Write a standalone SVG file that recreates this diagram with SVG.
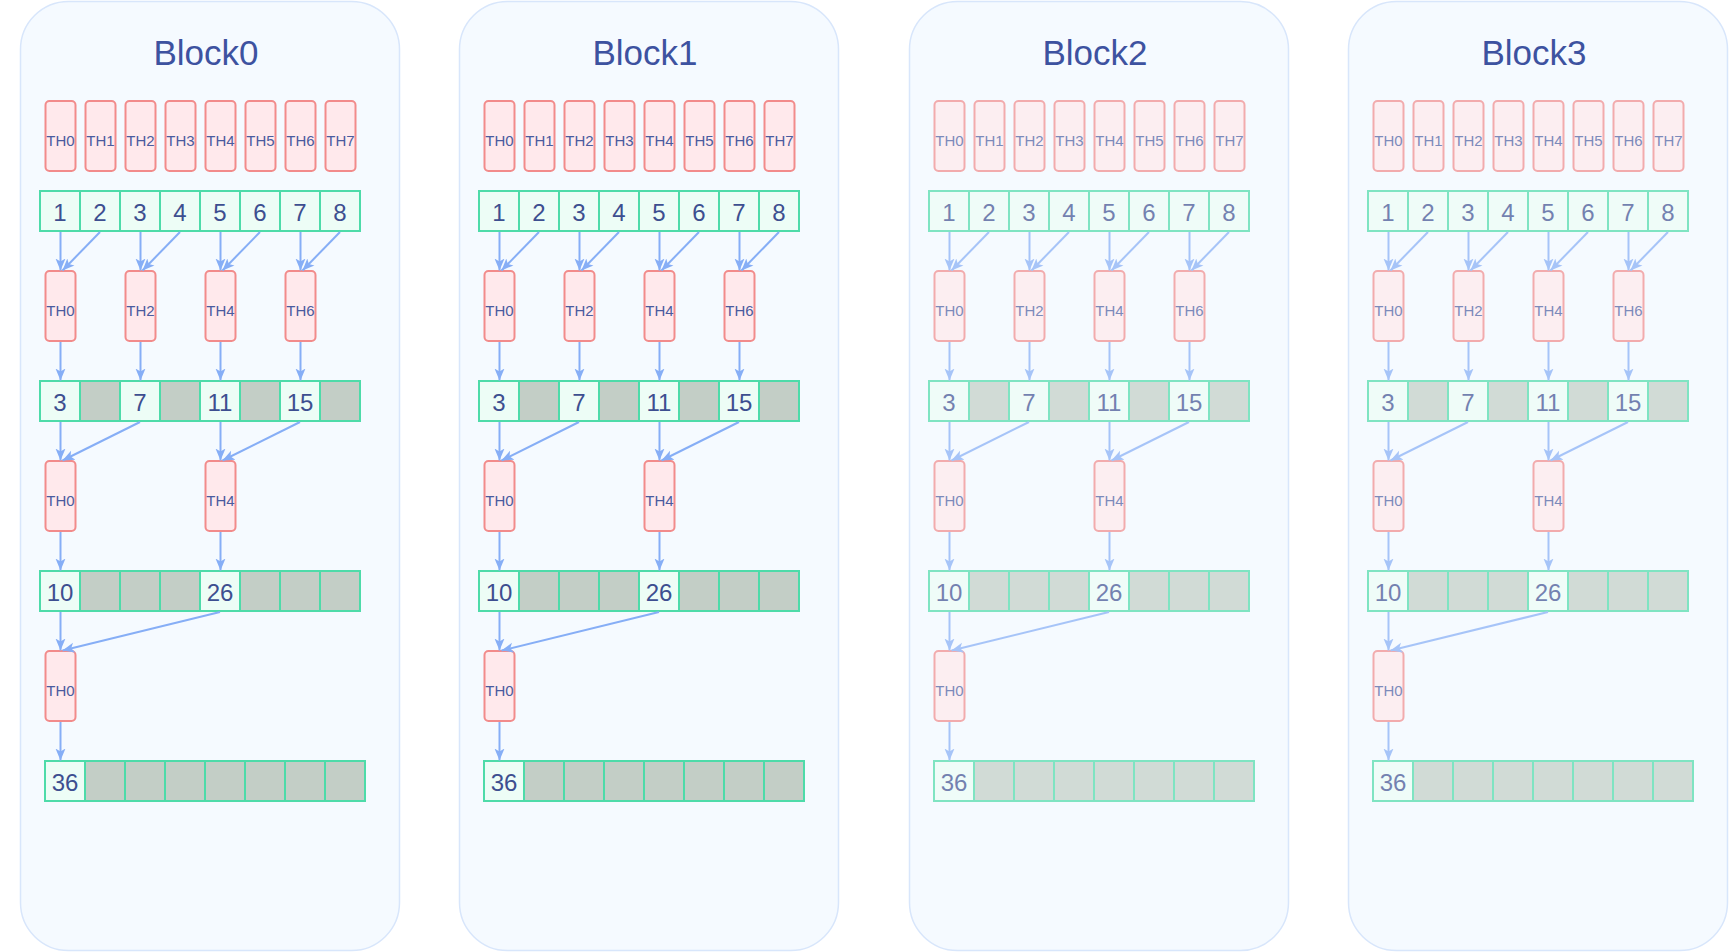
<svg xmlns="http://www.w3.org/2000/svg" width="1729" height="952" viewBox="0 0 1729 952">
<style>
.box{fill:#f5faff;stroke:#d8e6fb;stroke-width:1.5}
.title{font-family:"Liberation Sans",Arial,sans-serif;font-size:35px;fill:#3d52a0;text-anchor:middle}
.th{fill:#ffe9ec;stroke:#f28b8b;stroke-width:2}
.tl{font-family:"Liberation Sans",Arial,sans-serif;font-size:15px;fill:#4a5b9e;text-anchor:middle}
.c{fill:#edfdf6;stroke:#4edba9;stroke-width:2}
.g{fill:#c3cec6;stroke:#4edba9;stroke-width:2}
.n{font-family:"Liberation Sans",Arial,sans-serif;font-size:24px;fill:#3d4f90;text-anchor:middle}
.cn line{stroke:#86aef6;stroke-width:2;marker-end:url(#ah)}
.faded{opacity:0.7}
</style>
<defs>
<marker id="ah" viewBox="0 0 12 12" refX="12" refY="6" markerWidth="12" markerHeight="12" markerUnits="userSpaceOnUse" orient="auto">
<path d="M0,1 L12,6 L0,11 L3,6 z" fill="#86aef6"/>
</marker>
</defs>
<rect width="1729" height="952" fill="#ffffff"/>

<!-- ================= Block0 ================= -->
<g id="block0" transform="translate(0,0)">
<rect class="box" x="20.5" y="1.5" width="379" height="949" rx="48"/>
<text class="title" x="206" y="65">Block0</text>
<g id="b0-content">
<g id="b0-t1-0"><rect class="th" x="45.5" y="101" width="30" height="70" rx="4"/><text class="tl" x="60.5" y="145.5">TH0</text></g>
<g id="b0-t1-1"><rect class="th" x="85.5" y="101" width="30" height="70" rx="4"/><text class="tl" x="100.5" y="145.5">TH1</text></g>
<g id="b0-t1-2"><rect class="th" x="125.5" y="101" width="30" height="70" rx="4"/><text class="tl" x="140.5" y="145.5">TH2</text></g>
<g id="b0-t1-3"><rect class="th" x="165.5" y="101" width="30" height="70" rx="4"/><text class="tl" x="180.5" y="145.5">TH3</text></g>
<g id="b0-t1-4"><rect class="th" x="205.5" y="101" width="30" height="70" rx="4"/><text class="tl" x="220.5" y="145.5">TH4</text></g>
<g id="b0-t1-5"><rect class="th" x="245.5" y="101" width="30" height="70" rx="4"/><text class="tl" x="260.5" y="145.5">TH5</text></g>
<g id="b0-t1-6"><rect class="th" x="285.5" y="101" width="30" height="70" rx="4"/><text class="tl" x="300.5" y="145.5">TH6</text></g>
<g id="b0-t1-7"><rect class="th" x="325.5" y="101" width="30" height="70" rx="4"/><text class="tl" x="340.5" y="145.5">TH7</text></g>
<g id="b0-a1">
<rect class="c" x="40" y="191" width="40" height="40"/><rect class="c" x="80" y="191" width="40" height="40"/><rect class="c" x="120" y="191" width="40" height="40"/><rect class="c" x="160" y="191" width="40" height="40"/><rect class="c" x="200" y="191" width="40" height="40"/><rect class="c" x="240" y="191" width="40" height="40"/><rect class="c" x="280" y="191" width="40" height="40"/><rect class="c" x="320" y="191" width="40" height="40"/>
<text class="n" x="60" y="220.5">1</text><text class="n" x="100" y="220.5">2</text><text class="n" x="140" y="220.5">3</text><text class="n" x="180" y="220.5">4</text><text class="n" x="220" y="220.5">5</text><text class="n" x="260" y="220.5">6</text><text class="n" x="300" y="220.5">7</text><text class="n" x="340" y="220.5">8</text>
</g>
<g id="b0-t2-0"><rect class="th" x="45.5" y="271" width="30" height="70" rx="4"/><text class="tl" x="60.5" y="315.5">TH0</text></g>
<g id="b0-t2-2"><rect class="th" x="125.5" y="271" width="30" height="70" rx="4"/><text class="tl" x="140.5" y="315.5">TH2</text></g>
<g id="b0-t2-4"><rect class="th" x="205.5" y="271" width="30" height="70" rx="4"/><text class="tl" x="220.5" y="315.5">TH4</text></g>
<g id="b0-t2-6"><rect class="th" x="285.5" y="271" width="30" height="70" rx="4"/><text class="tl" x="300.5" y="315.5">TH6</text></g>
<g id="b0-a2">
<rect class="c" x="40" y="381" width="40" height="40"/><rect class="g" x="80" y="381" width="40" height="40"/><rect class="c" x="120" y="381" width="40" height="40"/><rect class="g" x="160" y="381" width="40" height="40"/><rect class="c" x="200" y="381" width="40" height="40"/><rect class="g" x="240" y="381" width="40" height="40"/><rect class="c" x="280" y="381" width="40" height="40"/><rect class="g" x="320" y="381" width="40" height="40"/>
<text class="n" x="60" y="410.5">3</text><text class="n" x="140" y="410.5">7</text><text class="n" x="220" y="410.5">11</text><text class="n" x="300" y="410.5">15</text>
</g>
<g id="b0-t3-0"><rect class="th" x="45.5" y="461" width="30" height="70" rx="4"/><text class="tl" x="60.5" y="505.5">TH0</text></g>
<g id="b0-t3-4"><rect class="th" x="205.5" y="461" width="30" height="70" rx="4"/><text class="tl" x="220.5" y="505.5">TH4</text></g>
<g id="b0-a3">
<rect class="c" x="40" y="571" width="40" height="40"/><rect class="g" x="80" y="571" width="40" height="40"/><rect class="g" x="120" y="571" width="40" height="40"/><rect class="g" x="160" y="571" width="40" height="40"/><rect class="c" x="200" y="571" width="40" height="40"/><rect class="g" x="240" y="571" width="40" height="40"/><rect class="g" x="280" y="571" width="40" height="40"/><rect class="g" x="320" y="571" width="40" height="40"/>
<text class="n" x="60" y="600.5">10</text><text class="n" x="220" y="600.5">26</text>
</g>
<g id="b0-t4-0"><rect class="th" x="45.5" y="651" width="30" height="70" rx="4"/><text class="tl" x="60.5" y="695.5">TH0</text></g>
<g id="b0-a4">
<rect class="c" x="45" y="761" width="40" height="40"/><rect class="g" x="85" y="761" width="40" height="40"/><rect class="g" x="125" y="761" width="40" height="40"/><rect class="g" x="165" y="761" width="40" height="40"/><rect class="g" x="205" y="761" width="40" height="40"/><rect class="g" x="245" y="761" width="40" height="40"/><rect class="g" x="285" y="761" width="40" height="40"/><rect class="g" x="325" y="761" width="40" height="40"/>
<text class="n" x="65" y="790.5">36</text>
</g>
<g id="b0-connectors" class="cn">
<line x1="60.5" y1="232" x2="60.5" y2="270.5"/><line x1="100" y1="232" x2="62.5" y2="270.5"/>
<line x1="140.5" y1="232" x2="140.5" y2="270.5"/><line x1="180" y1="232" x2="142.5" y2="270.5"/>
<line x1="220.5" y1="232" x2="220.5" y2="270.5"/><line x1="260" y1="232" x2="222.5" y2="270.5"/>
<line x1="300.5" y1="232" x2="300.5" y2="270.5"/><line x1="340" y1="232" x2="302.5" y2="270.5"/>
<line x1="60.5" y1="342" x2="60.5" y2="380.5"/><line x1="140.5" y1="342" x2="140.5" y2="380.5"/>
<line x1="220.5" y1="342" x2="220.5" y2="380.5"/><line x1="300.5" y1="342" x2="300.5" y2="380.5"/>
<line x1="60.5" y1="422" x2="60.5" y2="460.5"/><line x1="140" y1="422" x2="62.5" y2="460.5"/>
<line x1="220.5" y1="422" x2="220.5" y2="460.5"/><line x1="300" y1="422" x2="222.5" y2="460.5"/>
<line x1="60.5" y1="532" x2="60.5" y2="570.5"/><line x1="220.5" y1="532" x2="220.5" y2="570.5"/>
<line x1="60.5" y1="612" x2="60.5" y2="650.5"/><line x1="220" y1="612" x2="62.5" y2="650.5"/>
<line x1="60.5" y1="722" x2="60.5" y2="760.5"/>
</g>
</g>
</g>

<!-- ================= Block1 ================= -->
<g id="block1" transform="translate(439,0)">
<rect class="box" x="20.5" y="1.5" width="379" height="949" rx="48"/>
<text class="title" x="206" y="65">Block1</text>
<g id="b1-content">
<g id="b1-t1-0"><rect class="th" x="45.5" y="101" width="30" height="70" rx="4"/><text class="tl" x="60.5" y="145.5">TH0</text></g>
<g id="b1-t1-1"><rect class="th" x="85.5" y="101" width="30" height="70" rx="4"/><text class="tl" x="100.5" y="145.5">TH1</text></g>
<g id="b1-t1-2"><rect class="th" x="125.5" y="101" width="30" height="70" rx="4"/><text class="tl" x="140.5" y="145.5">TH2</text></g>
<g id="b1-t1-3"><rect class="th" x="165.5" y="101" width="30" height="70" rx="4"/><text class="tl" x="180.5" y="145.5">TH3</text></g>
<g id="b1-t1-4"><rect class="th" x="205.5" y="101" width="30" height="70" rx="4"/><text class="tl" x="220.5" y="145.5">TH4</text></g>
<g id="b1-t1-5"><rect class="th" x="245.5" y="101" width="30" height="70" rx="4"/><text class="tl" x="260.5" y="145.5">TH5</text></g>
<g id="b1-t1-6"><rect class="th" x="285.5" y="101" width="30" height="70" rx="4"/><text class="tl" x="300.5" y="145.5">TH6</text></g>
<g id="b1-t1-7"><rect class="th" x="325.5" y="101" width="30" height="70" rx="4"/><text class="tl" x="340.5" y="145.5">TH7</text></g>
<g id="b1-a1">
<rect class="c" x="40" y="191" width="40" height="40"/><rect class="c" x="80" y="191" width="40" height="40"/><rect class="c" x="120" y="191" width="40" height="40"/><rect class="c" x="160" y="191" width="40" height="40"/><rect class="c" x="200" y="191" width="40" height="40"/><rect class="c" x="240" y="191" width="40" height="40"/><rect class="c" x="280" y="191" width="40" height="40"/><rect class="c" x="320" y="191" width="40" height="40"/>
<text class="n" x="60" y="220.5">1</text><text class="n" x="100" y="220.5">2</text><text class="n" x="140" y="220.5">3</text><text class="n" x="180" y="220.5">4</text><text class="n" x="220" y="220.5">5</text><text class="n" x="260" y="220.5">6</text><text class="n" x="300" y="220.5">7</text><text class="n" x="340" y="220.5">8</text>
</g>
<g id="b1-t2-0"><rect class="th" x="45.5" y="271" width="30" height="70" rx="4"/><text class="tl" x="60.5" y="315.5">TH0</text></g>
<g id="b1-t2-2"><rect class="th" x="125.5" y="271" width="30" height="70" rx="4"/><text class="tl" x="140.5" y="315.5">TH2</text></g>
<g id="b1-t2-4"><rect class="th" x="205.5" y="271" width="30" height="70" rx="4"/><text class="tl" x="220.5" y="315.5">TH4</text></g>
<g id="b1-t2-6"><rect class="th" x="285.5" y="271" width="30" height="70" rx="4"/><text class="tl" x="300.5" y="315.5">TH6</text></g>
<g id="b1-a2">
<rect class="c" x="40" y="381" width="40" height="40"/><rect class="g" x="80" y="381" width="40" height="40"/><rect class="c" x="120" y="381" width="40" height="40"/><rect class="g" x="160" y="381" width="40" height="40"/><rect class="c" x="200" y="381" width="40" height="40"/><rect class="g" x="240" y="381" width="40" height="40"/><rect class="c" x="280" y="381" width="40" height="40"/><rect class="g" x="320" y="381" width="40" height="40"/>
<text class="n" x="60" y="410.5">3</text><text class="n" x="140" y="410.5">7</text><text class="n" x="220" y="410.5">11</text><text class="n" x="300" y="410.5">15</text>
</g>
<g id="b1-t3-0"><rect class="th" x="45.5" y="461" width="30" height="70" rx="4"/><text class="tl" x="60.5" y="505.5">TH0</text></g>
<g id="b1-t3-4"><rect class="th" x="205.5" y="461" width="30" height="70" rx="4"/><text class="tl" x="220.5" y="505.5">TH4</text></g>
<g id="b1-a3">
<rect class="c" x="40" y="571" width="40" height="40"/><rect class="g" x="80" y="571" width="40" height="40"/><rect class="g" x="120" y="571" width="40" height="40"/><rect class="g" x="160" y="571" width="40" height="40"/><rect class="c" x="200" y="571" width="40" height="40"/><rect class="g" x="240" y="571" width="40" height="40"/><rect class="g" x="280" y="571" width="40" height="40"/><rect class="g" x="320" y="571" width="40" height="40"/>
<text class="n" x="60" y="600.5">10</text><text class="n" x="220" y="600.5">26</text>
</g>
<g id="b1-t4-0"><rect class="th" x="45.5" y="651" width="30" height="70" rx="4"/><text class="tl" x="60.5" y="695.5">TH0</text></g>
<g id="b1-a4">
<rect class="c" x="45" y="761" width="40" height="40"/><rect class="g" x="85" y="761" width="40" height="40"/><rect class="g" x="125" y="761" width="40" height="40"/><rect class="g" x="165" y="761" width="40" height="40"/><rect class="g" x="205" y="761" width="40" height="40"/><rect class="g" x="245" y="761" width="40" height="40"/><rect class="g" x="285" y="761" width="40" height="40"/><rect class="g" x="325" y="761" width="40" height="40"/>
<text class="n" x="65" y="790.5">36</text>
</g>
<g id="b1-connectors" class="cn">
<line x1="60.5" y1="232" x2="60.5" y2="270.5"/><line x1="100" y1="232" x2="62.5" y2="270.5"/>
<line x1="140.5" y1="232" x2="140.5" y2="270.5"/><line x1="180" y1="232" x2="142.5" y2="270.5"/>
<line x1="220.5" y1="232" x2="220.5" y2="270.5"/><line x1="260" y1="232" x2="222.5" y2="270.5"/>
<line x1="300.5" y1="232" x2="300.5" y2="270.5"/><line x1="340" y1="232" x2="302.5" y2="270.5"/>
<line x1="60.5" y1="342" x2="60.5" y2="380.5"/><line x1="140.5" y1="342" x2="140.5" y2="380.5"/>
<line x1="220.5" y1="342" x2="220.5" y2="380.5"/><line x1="300.5" y1="342" x2="300.5" y2="380.5"/>
<line x1="60.5" y1="422" x2="60.5" y2="460.5"/><line x1="140" y1="422" x2="62.5" y2="460.5"/>
<line x1="220.5" y1="422" x2="220.5" y2="460.5"/><line x1="300" y1="422" x2="222.5" y2="460.5"/>
<line x1="60.5" y1="532" x2="60.5" y2="570.5"/><line x1="220.5" y1="532" x2="220.5" y2="570.5"/>
<line x1="60.5" y1="612" x2="60.5" y2="650.5"/><line x1="220" y1="612" x2="62.5" y2="650.5"/>
<line x1="60.5" y1="722" x2="60.5" y2="760.5"/>
</g>
</g>
</g>

<!-- ================= Block2 ================= -->
<g id="block2" transform="translate(889,0)">
<rect class="box" x="20.5" y="1.5" width="379" height="949" rx="48"/>
<text class="title" x="206" y="65">Block2</text>
<g id="b2-content" class="faded">
<g id="b2-t1-0"><rect class="th" x="45.5" y="101" width="30" height="70" rx="4"/><text class="tl" x="60.5" y="145.5">TH0</text></g>
<g id="b2-t1-1"><rect class="th" x="85.5" y="101" width="30" height="70" rx="4"/><text class="tl" x="100.5" y="145.5">TH1</text></g>
<g id="b2-t1-2"><rect class="th" x="125.5" y="101" width="30" height="70" rx="4"/><text class="tl" x="140.5" y="145.5">TH2</text></g>
<g id="b2-t1-3"><rect class="th" x="165.5" y="101" width="30" height="70" rx="4"/><text class="tl" x="180.5" y="145.5">TH3</text></g>
<g id="b2-t1-4"><rect class="th" x="205.5" y="101" width="30" height="70" rx="4"/><text class="tl" x="220.5" y="145.5">TH4</text></g>
<g id="b2-t1-5"><rect class="th" x="245.5" y="101" width="30" height="70" rx="4"/><text class="tl" x="260.5" y="145.5">TH5</text></g>
<g id="b2-t1-6"><rect class="th" x="285.5" y="101" width="30" height="70" rx="4"/><text class="tl" x="300.5" y="145.5">TH6</text></g>
<g id="b2-t1-7"><rect class="th" x="325.5" y="101" width="30" height="70" rx="4"/><text class="tl" x="340.5" y="145.5">TH7</text></g>
<g id="b2-a1">
<rect class="c" x="40" y="191" width="40" height="40"/><rect class="c" x="80" y="191" width="40" height="40"/><rect class="c" x="120" y="191" width="40" height="40"/><rect class="c" x="160" y="191" width="40" height="40"/><rect class="c" x="200" y="191" width="40" height="40"/><rect class="c" x="240" y="191" width="40" height="40"/><rect class="c" x="280" y="191" width="40" height="40"/><rect class="c" x="320" y="191" width="40" height="40"/>
<text class="n" x="60" y="220.5">1</text><text class="n" x="100" y="220.5">2</text><text class="n" x="140" y="220.5">3</text><text class="n" x="180" y="220.5">4</text><text class="n" x="220" y="220.5">5</text><text class="n" x="260" y="220.5">6</text><text class="n" x="300" y="220.5">7</text><text class="n" x="340" y="220.5">8</text>
</g>
<g id="b2-t2-0"><rect class="th" x="45.5" y="271" width="30" height="70" rx="4"/><text class="tl" x="60.5" y="315.5">TH0</text></g>
<g id="b2-t2-2"><rect class="th" x="125.5" y="271" width="30" height="70" rx="4"/><text class="tl" x="140.5" y="315.5">TH2</text></g>
<g id="b2-t2-4"><rect class="th" x="205.5" y="271" width="30" height="70" rx="4"/><text class="tl" x="220.5" y="315.5">TH4</text></g>
<g id="b2-t2-6"><rect class="th" x="285.5" y="271" width="30" height="70" rx="4"/><text class="tl" x="300.5" y="315.5">TH6</text></g>
<g id="b2-a2">
<rect class="c" x="40" y="381" width="40" height="40"/><rect class="g" x="80" y="381" width="40" height="40"/><rect class="c" x="120" y="381" width="40" height="40"/><rect class="g" x="160" y="381" width="40" height="40"/><rect class="c" x="200" y="381" width="40" height="40"/><rect class="g" x="240" y="381" width="40" height="40"/><rect class="c" x="280" y="381" width="40" height="40"/><rect class="g" x="320" y="381" width="40" height="40"/>
<text class="n" x="60" y="410.5">3</text><text class="n" x="140" y="410.5">7</text><text class="n" x="220" y="410.5">11</text><text class="n" x="300" y="410.5">15</text>
</g>
<g id="b2-t3-0"><rect class="th" x="45.5" y="461" width="30" height="70" rx="4"/><text class="tl" x="60.5" y="505.5">TH0</text></g>
<g id="b2-t3-4"><rect class="th" x="205.5" y="461" width="30" height="70" rx="4"/><text class="tl" x="220.5" y="505.5">TH4</text></g>
<g id="b2-a3">
<rect class="c" x="40" y="571" width="40" height="40"/><rect class="g" x="80" y="571" width="40" height="40"/><rect class="g" x="120" y="571" width="40" height="40"/><rect class="g" x="160" y="571" width="40" height="40"/><rect class="c" x="200" y="571" width="40" height="40"/><rect class="g" x="240" y="571" width="40" height="40"/><rect class="g" x="280" y="571" width="40" height="40"/><rect class="g" x="320" y="571" width="40" height="40"/>
<text class="n" x="60" y="600.5">10</text><text class="n" x="220" y="600.5">26</text>
</g>
<g id="b2-t4-0"><rect class="th" x="45.5" y="651" width="30" height="70" rx="4"/><text class="tl" x="60.5" y="695.5">TH0</text></g>
<g id="b2-a4">
<rect class="c" x="45" y="761" width="40" height="40"/><rect class="g" x="85" y="761" width="40" height="40"/><rect class="g" x="125" y="761" width="40" height="40"/><rect class="g" x="165" y="761" width="40" height="40"/><rect class="g" x="205" y="761" width="40" height="40"/><rect class="g" x="245" y="761" width="40" height="40"/><rect class="g" x="285" y="761" width="40" height="40"/><rect class="g" x="325" y="761" width="40" height="40"/>
<text class="n" x="65" y="790.5">36</text>
</g>
<g id="b2-connectors" class="cn">
<line x1="60.5" y1="232" x2="60.5" y2="270.5"/><line x1="100" y1="232" x2="62.5" y2="270.5"/>
<line x1="140.5" y1="232" x2="140.5" y2="270.5"/><line x1="180" y1="232" x2="142.5" y2="270.5"/>
<line x1="220.5" y1="232" x2="220.5" y2="270.5"/><line x1="260" y1="232" x2="222.5" y2="270.5"/>
<line x1="300.5" y1="232" x2="300.5" y2="270.5"/><line x1="340" y1="232" x2="302.5" y2="270.5"/>
<line x1="60.5" y1="342" x2="60.5" y2="380.5"/><line x1="140.5" y1="342" x2="140.5" y2="380.5"/>
<line x1="220.5" y1="342" x2="220.5" y2="380.5"/><line x1="300.5" y1="342" x2="300.5" y2="380.5"/>
<line x1="60.5" y1="422" x2="60.5" y2="460.5"/><line x1="140" y1="422" x2="62.5" y2="460.5"/>
<line x1="220.5" y1="422" x2="220.5" y2="460.5"/><line x1="300" y1="422" x2="222.5" y2="460.5"/>
<line x1="60.5" y1="532" x2="60.5" y2="570.5"/><line x1="220.5" y1="532" x2="220.5" y2="570.5"/>
<line x1="60.5" y1="612" x2="60.5" y2="650.5"/><line x1="220" y1="612" x2="62.5" y2="650.5"/>
<line x1="60.5" y1="722" x2="60.5" y2="760.5"/>
</g>
</g>
</g>

<!-- ================= Block3 ================= -->
<g id="block3" transform="translate(1328,0)">
<rect class="box" x="20.5" y="1.5" width="379" height="949" rx="48"/>
<text class="title" x="206" y="65">Block3</text>
<g id="b3-content" class="faded">
<g id="b3-t1-0"><rect class="th" x="45.5" y="101" width="30" height="70" rx="4"/><text class="tl" x="60.5" y="145.5">TH0</text></g>
<g id="b3-t1-1"><rect class="th" x="85.5" y="101" width="30" height="70" rx="4"/><text class="tl" x="100.5" y="145.5">TH1</text></g>
<g id="b3-t1-2"><rect class="th" x="125.5" y="101" width="30" height="70" rx="4"/><text class="tl" x="140.5" y="145.5">TH2</text></g>
<g id="b3-t1-3"><rect class="th" x="165.5" y="101" width="30" height="70" rx="4"/><text class="tl" x="180.5" y="145.5">TH3</text></g>
<g id="b3-t1-4"><rect class="th" x="205.5" y="101" width="30" height="70" rx="4"/><text class="tl" x="220.5" y="145.5">TH4</text></g>
<g id="b3-t1-5"><rect class="th" x="245.5" y="101" width="30" height="70" rx="4"/><text class="tl" x="260.5" y="145.5">TH5</text></g>
<g id="b3-t1-6"><rect class="th" x="285.5" y="101" width="30" height="70" rx="4"/><text class="tl" x="300.5" y="145.5">TH6</text></g>
<g id="b3-t1-7"><rect class="th" x="325.5" y="101" width="30" height="70" rx="4"/><text class="tl" x="340.5" y="145.5">TH7</text></g>
<g id="b3-a1">
<rect class="c" x="40" y="191" width="40" height="40"/><rect class="c" x="80" y="191" width="40" height="40"/><rect class="c" x="120" y="191" width="40" height="40"/><rect class="c" x="160" y="191" width="40" height="40"/><rect class="c" x="200" y="191" width="40" height="40"/><rect class="c" x="240" y="191" width="40" height="40"/><rect class="c" x="280" y="191" width="40" height="40"/><rect class="c" x="320" y="191" width="40" height="40"/>
<text class="n" x="60" y="220.5">1</text><text class="n" x="100" y="220.5">2</text><text class="n" x="140" y="220.5">3</text><text class="n" x="180" y="220.5">4</text><text class="n" x="220" y="220.5">5</text><text class="n" x="260" y="220.5">6</text><text class="n" x="300" y="220.5">7</text><text class="n" x="340" y="220.5">8</text>
</g>
<g id="b3-t2-0"><rect class="th" x="45.5" y="271" width="30" height="70" rx="4"/><text class="tl" x="60.5" y="315.5">TH0</text></g>
<g id="b3-t2-2"><rect class="th" x="125.5" y="271" width="30" height="70" rx="4"/><text class="tl" x="140.5" y="315.5">TH2</text></g>
<g id="b3-t2-4"><rect class="th" x="205.5" y="271" width="30" height="70" rx="4"/><text class="tl" x="220.5" y="315.5">TH4</text></g>
<g id="b3-t2-6"><rect class="th" x="285.5" y="271" width="30" height="70" rx="4"/><text class="tl" x="300.5" y="315.5">TH6</text></g>
<g id="b3-a2">
<rect class="c" x="40" y="381" width="40" height="40"/><rect class="g" x="80" y="381" width="40" height="40"/><rect class="c" x="120" y="381" width="40" height="40"/><rect class="g" x="160" y="381" width="40" height="40"/><rect class="c" x="200" y="381" width="40" height="40"/><rect class="g" x="240" y="381" width="40" height="40"/><rect class="c" x="280" y="381" width="40" height="40"/><rect class="g" x="320" y="381" width="40" height="40"/>
<text class="n" x="60" y="410.5">3</text><text class="n" x="140" y="410.5">7</text><text class="n" x="220" y="410.5">11</text><text class="n" x="300" y="410.5">15</text>
</g>
<g id="b3-t3-0"><rect class="th" x="45.5" y="461" width="30" height="70" rx="4"/><text class="tl" x="60.5" y="505.5">TH0</text></g>
<g id="b3-t3-4"><rect class="th" x="205.5" y="461" width="30" height="70" rx="4"/><text class="tl" x="220.5" y="505.5">TH4</text></g>
<g id="b3-a3">
<rect class="c" x="40" y="571" width="40" height="40"/><rect class="g" x="80" y="571" width="40" height="40"/><rect class="g" x="120" y="571" width="40" height="40"/><rect class="g" x="160" y="571" width="40" height="40"/><rect class="c" x="200" y="571" width="40" height="40"/><rect class="g" x="240" y="571" width="40" height="40"/><rect class="g" x="280" y="571" width="40" height="40"/><rect class="g" x="320" y="571" width="40" height="40"/>
<text class="n" x="60" y="600.5">10</text><text class="n" x="220" y="600.5">26</text>
</g>
<g id="b3-t4-0"><rect class="th" x="45.5" y="651" width="30" height="70" rx="4"/><text class="tl" x="60.5" y="695.5">TH0</text></g>
<g id="b3-a4">
<rect class="c" x="45" y="761" width="40" height="40"/><rect class="g" x="85" y="761" width="40" height="40"/><rect class="g" x="125" y="761" width="40" height="40"/><rect class="g" x="165" y="761" width="40" height="40"/><rect class="g" x="205" y="761" width="40" height="40"/><rect class="g" x="245" y="761" width="40" height="40"/><rect class="g" x="285" y="761" width="40" height="40"/><rect class="g" x="325" y="761" width="40" height="40"/>
<text class="n" x="65" y="790.5">36</text>
</g>
<g id="b3-connectors" class="cn">
<line x1="60.5" y1="232" x2="60.5" y2="270.5"/><line x1="100" y1="232" x2="62.5" y2="270.5"/>
<line x1="140.5" y1="232" x2="140.5" y2="270.5"/><line x1="180" y1="232" x2="142.5" y2="270.5"/>
<line x1="220.5" y1="232" x2="220.5" y2="270.5"/><line x1="260" y1="232" x2="222.5" y2="270.5"/>
<line x1="300.5" y1="232" x2="300.5" y2="270.5"/><line x1="340" y1="232" x2="302.5" y2="270.5"/>
<line x1="60.5" y1="342" x2="60.5" y2="380.5"/><line x1="140.5" y1="342" x2="140.5" y2="380.5"/>
<line x1="220.5" y1="342" x2="220.5" y2="380.5"/><line x1="300.5" y1="342" x2="300.5" y2="380.5"/>
<line x1="60.5" y1="422" x2="60.5" y2="460.5"/><line x1="140" y1="422" x2="62.5" y2="460.5"/>
<line x1="220.5" y1="422" x2="220.5" y2="460.5"/><line x1="300" y1="422" x2="222.5" y2="460.5"/>
<line x1="60.5" y1="532" x2="60.5" y2="570.5"/><line x1="220.5" y1="532" x2="220.5" y2="570.5"/>
<line x1="60.5" y1="612" x2="60.5" y2="650.5"/><line x1="220" y1="612" x2="62.5" y2="650.5"/>
<line x1="60.5" y1="722" x2="60.5" y2="760.5"/>
</g>
</g>
</g>
</svg>
